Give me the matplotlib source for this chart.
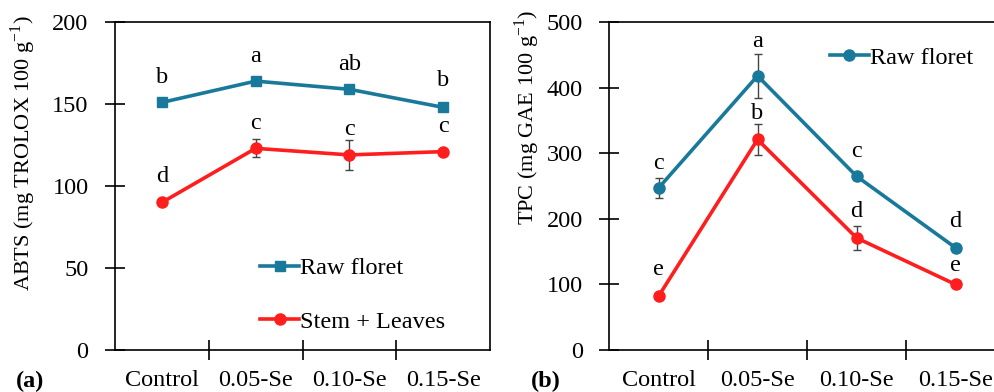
import numpy as np
import matplotlib
matplotlib.use("Agg")
import matplotlib.pyplot as plt

plt.rcParams['font.family'] = ['Liberation Serif', 'DejaVu Serif']
plt.rcParams['mathtext.fontset'] = 'custom'
plt.rcParams['mathtext.rm'] = 'Liberation Serif'

# Data
treatments = ["Control", "0.05-Se", "0.10-Se", "0.15-Se"]

abts_floret = [151, 164, 159, 148]
abts_floret_err = [1, 1, 1, 1]
abts_stem = [90, 123, 119, 121]
abts_stem_err = [1, 5.5, 9, 1]
abts_floret_letters = ["b", "a", "ab", "b"]
abts_stem_letters = ["d", "c", "c", "c"]

tpc_floret = [247, 418, 265, 156]
tpc_floret_err = [15, 33, 5, 6]
tpc_stem = [82, 321, 171, 100]
tpc_stem_err = [2, 23, 18, 2]
tpc_floret_letters = ["c", "a", "c", "d"]
tpc_stem_letters = ["e", "b", "d", "e"]

blue = '#19799A'
red = '#FF1E1E'
fs = 17.5


def style_axis(ax, ymax):
    x = np.arange(len(treatments))
    ax.set_xlim(-0.5, len(treatments) - 0.5)
    ax.set_ylim(0, ymax)
    ax.set_xticks(np.arange(0.5, len(treatments) - 0.5, 1))
    ax.set_xticklabels([])
    ax.set_xticks(x, minor=True)
    ax.set_xticklabels(treatments, minor=True, fontsize=fs)
    ax.tick_params(axis='x', which='major', direction='inout', length=14, width=1.2)
    ax.tick_params(axis='x', which='minor', length=0, pad=14)
    ax.tick_params(axis='y', direction='inout', length=15, width=1.2, labelsize=fs, pad=11.5)
    for s in ax.spines.values():
        s.set_linewidth(1.2)


def add_letters(ax, values, letters, offsets):
    for i in range(len(values)):
        ax.annotate(letters[i], (i, values[i]), xytext=(0, offsets[i]), textcoords='offset points',
                    ha='center', va='center', fontsize=fs)


fig = plt.figure(figsize=(9.94, 3.92), dpi=100)
x = np.arange(len(treatments))
err_style = dict(fmt='none', ecolor='#444444', elinewidth=1, capsize=3, zorder=2)

# Panel (a)
ax1 = fig.add_axes([0.1157, 0.107, 0.3773, 0.8367])
ax1.plot(x, abts_floret, color=blue, lw=2.6, marker='s', ms=7.5, label='Raw floret', zorder=3)
ax1.plot(x, abts_stem, color=red, lw=2.6, marker='o', ms=8, label='Stem + Leaves', zorder=3)
ax1.errorbar(x, abts_floret, yerr=abts_floret_err, **err_style)
ax1.errorbar(x, abts_stem, yerr=abts_stem_err, **err_style)
style_axis(ax1, 200)
ax1.set_yticks([0, 50, 100, 150, 200])
ax1.set_ylabel("ABTS (mg TROLOX 100 g$^{-1}$)", fontsize=16)
ax1.yaxis.set_label_coords(-0.205, 0.60)
add_letters(ax1, abts_floret, abts_floret_letters, [18, 18, 18, 19])
add_letters(ax1, abts_stem, abts_stem_letters, [19, 18, 18, 18])
ax1.legend(loc='upper left', bbox_to_anchor=(0.387, 0.283), frameon=False, fontsize=fs,
           handlelength=1.6, handletextpad=0.05, borderpad=0, borderaxespad=0, labelspacing=1.3)

# Panel (b)
ax2 = fig.add_axes([0.6127, 0.107, 0.3984, 0.8367])
ax2.plot(x, tpc_floret, color=blue, lw=2.6, marker='o', ms=8, label='Raw floret', zorder=3)
ax2.plot(x, tpc_stem, color=red, lw=2.6, marker='o', ms=8, zorder=3)
ax2.errorbar(x, tpc_floret, yerr=tpc_floret_err, **err_style)
ax2.errorbar(x, tpc_stem, yerr=tpc_stem_err, **err_style)
style_axis(ax2, 500)
ax2.set_yticks([0, 100, 200, 300, 400, 500])
ax2.set_ylabel("TPC (mg GAE 100 g$^{-1}$)", fontsize=16)
ax2.yaxis.set_label_coords(-0.17, 0.71)
add_letters(ax2, tpc_floret, tpc_floret_letters, [18, 25, 18, 19])
add_letters(ax2, tpc_stem, tpc_stem_letters, [19, 19, 19, 14])
ax2.legend(loc='upper left', bbox_to_anchor=(0.558, 0.925), frameon=False, fontsize=fs,
           handlelength=1.6, handletextpad=0.05, borderpad=0, borderaxespad=0)

fig.text(0.03, 0.028, "(a)", fontsize=fs, fontweight='bold', ha='center', va='center')
fig.text(0.549, 0.028, "(b)", fontsize=fs, fontweight='bold', ha='center', va='center')

fig.savefig("out.png", dpi=100)
